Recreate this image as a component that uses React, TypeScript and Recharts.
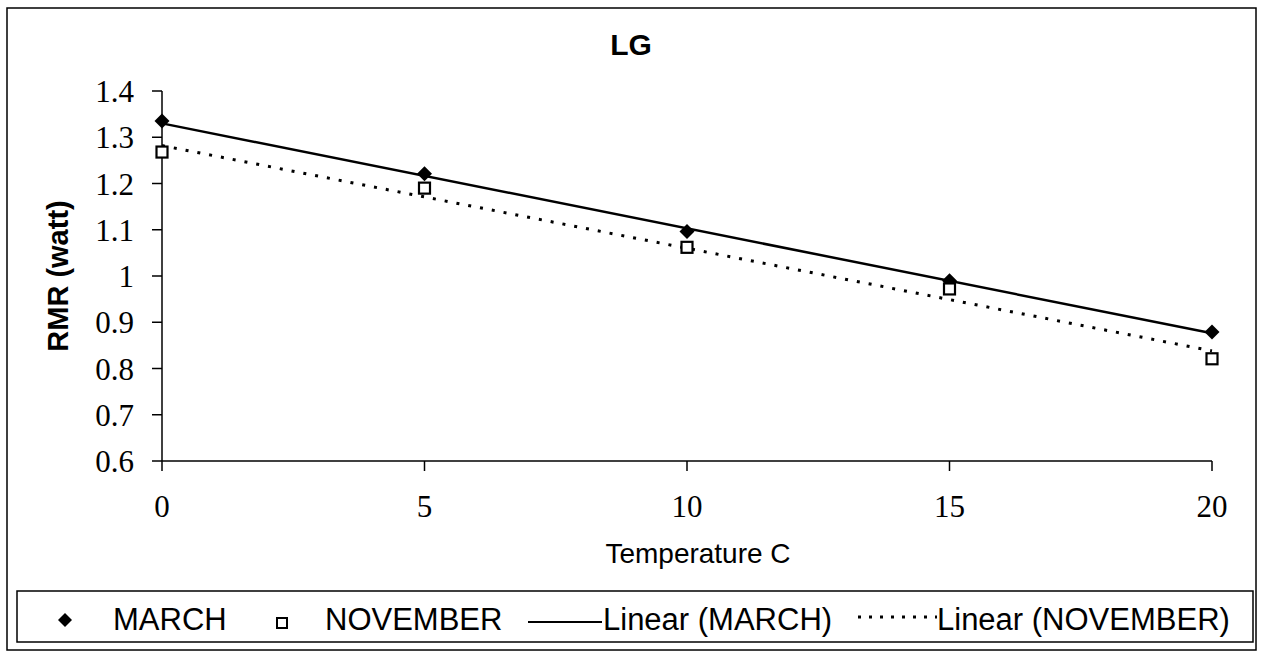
import React from 'react'
import { ComposedChart, Line, XAxis, YAxis } from 'recharts'

const temps = [0, 5, 10, 15, 20]
const march = [1.335, 1.221, 1.096, 0.99, 0.879]
const november = [1.268, 1.19, 1.062, 0.972, 0.821]
// trendline end points
const fitTemps = [0, 20]
const marchFit = [1.33, 0.876]
const novemberFit = [1.282, 0.838]
const xTicks = [0, 5, 10, 15, 20]
const yTicks = [0.6, 0.7, 0.8, 0.9, 1.0, 1.1, 1.2, 1.3, 1.4]

const points = temps.map((t, i) => ({ t, march: march[i], november: november[i] }))
const marchLine = fitTemps.map((t, i) => ({ t, v: marchFit[i] }))
const novemberLine = fitTemps.map((t, i) => ({ t, v: novemberFit[i] }))

const SANS = '"Liberation Sans", Arial, sans-serif'
const SERIF = '"Liberation Serif", "Times New Roman", serif'

const Diamond = (props: any) => {
  const { cx, cy, index } = props
  if (cx == null || cy == null) return null
  const r = 7.5
  return <path key={'d' + index} d={`M${cx},${cy - r}L${cx + r},${cy}L${cx},${cy + r}L${cx - r},${cy}Z`} fill="#000" />
}

const Square = (props: any) => {
  const { cx, cy, index } = props
  if (cx == null || cy == null) return null
  return <rect key={'s' + index} x={cx - 5.5} y={cy - 5.5} width={11} height={11} fill="#fff" stroke="#000" strokeWidth={2.2} />
}

const YTitle = (props: any) => {
  const vb = props.viewBox || {}
  const x = vb.x - 4
  const y = vb.y + vb.height / 2
  return (
    <text x={x} y={y} transform={`rotate(-90 ${x} ${y})`} textAnchor="middle" dominantBaseline="central"
      fontFamily={SANS} fontSize={29} fontWeight="bold" fill="#000">RMR (watt)</text>
  )
}

const XTitle = (props: any) => {
  const vb = props.viewBox || {}
  return (
    <text x={vb.x + vb.width / 2 + 11} y={563} textAnchor="middle" fontFamily={SANS} fontSize={28} fill="#000">
      Temperature C
    </text>
  )
}

const fmt = (v: number) => String(Number(v.toFixed(1)))

export default function App() {
  return (
    <div style={{ position: 'absolute', left: 0, top: 0, width: 1262, height: 652, background: '#fff' }}>
      <ComposedChart width={1262} height={652} margin={{ top: 91, right: 50, bottom: 131, left: 62 }}>
        <XAxis type="number" dataKey="t" domain={[0, 20]} ticks={xTicks}
          stroke="#000" strokeWidth={1.5} tickSize={10} tickMargin={24} height={60}
          tick={{ fontFamily: SERIF, fontSize: 31, fill: '#000' }} label={<XTitle />} />
        <YAxis type="number" domain={[0.6, 1.4]} ticks={yTicks} tickFormatter={fmt}
          stroke="#000" strokeWidth={1.5} tickSize={10} tickMargin={18} width={100}
          tick={{ fontFamily: SERIF, fontSize: 31, fill: '#000' }} label={<YTitle />} />
        <Line data={marchLine} dataKey="v" stroke="#000" strokeWidth={2.5} dot={false} isAnimationActive={false} />
        <Line data={novemberLine} dataKey="v" stroke="#000" strokeWidth={3} strokeDasharray="3 9" dot={false} isAnimationActive={false} />
        <Line data={points} dataKey="march" stroke="none" dot={Diamond} activeDot={false} isAnimationActive={false} />
        <Line data={points} dataKey="november" stroke="none" dot={Square} activeDot={false} isAnimationActive={false} />
      </ComposedChart>
      <svg width={1262} height={652} style={{ position: 'absolute', left: 0, top: 0, pointerEvents: 'none' }}>
        <rect x={7} y={8} width={1249} height={642} fill="none" stroke="#000" strokeWidth={1.5} />
        <text x={631} y={55} textAnchor="middle" fontFamily={SANS} fontSize={30} fontWeight="bold" fill="#000">LG</text>
        <rect x={17} y={591} width={1236} height={51} fill="none" stroke="#000" strokeWidth={1.5} />
        <path d="M65,613L72,620L65,627L58,620Z" fill="#000" />
        <text x={113} y={630} fontFamily={SANS} fontSize={31} fill="#000">MARCH</text>
        <rect x={277} y={618} width={10} height={10} fill="#fff" stroke="#000" strokeWidth={2} />
        <text x={325} y={630} fontFamily={SANS} fontSize={31} fill="#000">NOVEMBER</text>
        <line x1={528} y1={622} x2={602} y2={622} stroke="#000" strokeWidth={2} />
        <text x={603} y={630} fontFamily={SANS} fontSize={31} fill="#000">Linear (MARCH)</text>
        <line x1={858} y1={617} x2={937} y2={617} stroke="#000" strokeWidth={3} strokeDasharray="3 8" />
        <text x={937} y={630} fontFamily={SANS} fontSize={31} fill="#000">Linear (NOVEMBER)</text>
      </svg>
    </div>
  )
}
